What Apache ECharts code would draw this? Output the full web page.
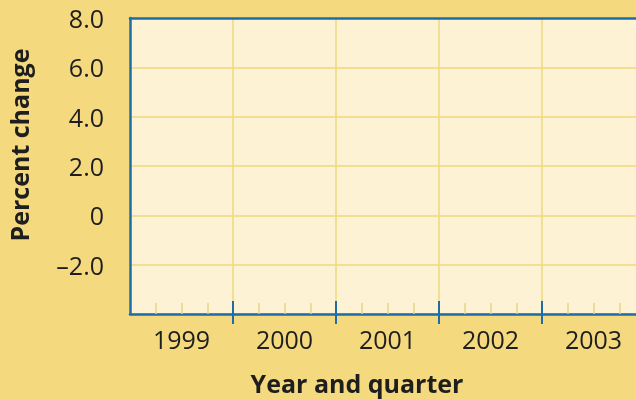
<!DOCTYPE html>
<html>
<head>
<meta charset="utf-8">
<script src="https://cdn.jsdelivr.net/npm/echarts@6/dist/echarts.min.js"></script>
<style>
html,body{margin:0;padding:0;background:#f4d97e;}
#c{width:636px;height:400px;}
</style>
</head>
<body>
<div id="c"></div>
<script>
// Data (empty worksheet graph: only axes)
var years = ['1999', '2000', '2001', '2002', '2003'];
var yTicks = [-4, -2, 0, 2, 4, 6, 8];
var yTickLabels = ['', '\u20132.0', '0', '2.0', '4.0', '6.0', '8.0'];
var quartersPerYear = 4;
var seriesValues = [];

var BLUE = '#1d6ea8';
var GRID = '#efd97c';
var MINOR = '#e8d57e';
var FONT = '"Open Sans", "Noto Sans", sans-serif';

var yearCenters = years.map(function (y, i) { return i + 0.5; });
var yearBounds = [];
for (var i = 1; i < years.length; i++) yearBounds.push(i);
var quarterTicks = [];
for (var j = 0; j < years.length; j++) {
  for (var q = 1; q < quartersPerYear; q++) quarterTicks.push(j + q / quartersPerYear);
}

var chart = echarts.init(document.getElementById('c'), null, {renderer: 'canvas'});
chart.setOption({
  backgroundColor: '#f4d97e',
  animation: false,
  grid: {
    left: 130, width: 515, top: 18, bottom: 86,
    outerBoundsMode: 'none', containLabel: false,
    show: true, backgroundColor: '#fdf2d4', borderWidth: 0
  },
  xAxis: [
    {
      type: 'value', min: 0, max: years.length, interval: 1,
      position: 'bottom',
      axisLine: {show: true, onZero: false, lineStyle: {color: BLUE, width: 2.5}},
      axisTick: {show: true, customValues: yearBounds, inside: false, length: 10, lineStyle: {color: BLUE, width: 2}},
      splitLine: {show: true, lineStyle: {color: GRID, width: 1.5}},
      axisLabel: {
        show: true, customValues: yearCenters, margin: 15,
        color: '#1e1e1e', fontSize: 25, fontFamily: FONT,
        formatter: function (v) { return years[Math.floor(v)]; }
      }
    },
    {
      type: 'value', min: 0, max: years.length, interval: 1,
      position: 'bottom',
      axisLine: {show: false, onZero: false},
      axisTick: {show: true, customValues: yearBounds, inside: true, length: 13, lineStyle: {color: BLUE, width: 2}},
      splitLine: {show: false},
      axisLabel: {show: false}
    },
    {
      type: 'value', min: 0, max: years.length,
      position: 'bottom',
      axisLine: {show: false, onZero: false},
      axisTick: {show: true, customValues: quarterTicks, inside: true, length: 11, lineStyle: {color: MINOR, width: 1.5}},
      splitLine: {show: false},
      axisLabel: {show: false}
    },
    {
      type: 'value', min: 0, max: years.length,
      position: 'top',
      axisLine: {show: true, onZero: false, lineStyle: {color: BLUE, width: 2.5}},
      axisTick: {show: false},
      splitLine: {show: false},
      axisLabel: {show: false}
    }
  ],
  yAxis: {
    type: 'value', min: yTicks[0], max: yTicks[yTicks.length - 1], interval: 2,
    axisLine: {show: true, onZero: false, lineStyle: {color: BLUE, width: 2.5}},
    axisTick: {show: false},
    splitLine: {show: true, lineStyle: {color: GRID, width: 1.5}},
    axisLabel: {
      margin: 26, color: '#1e1e1e', fontSize: 25, fontFamily: FONT,
      verticalAlign: 'middle',
      rich: {
        v: {color: '#1e1e1e', fontSize: 25, fontFamily: FONT, padding: [6, 0, 0, 0]}
      },
      formatter: function (v) {
        var k = yTicks.indexOf(v);
        var s = k >= 0 ? yTickLabels[k] : '';
        return s ? '{v|' + s + '}' : '';
      }
    }
  },
  graphic: [
    {
      type: 'text', x: 22, y: 145, rotation: Math.PI / 2,
      style: {
        text: 'Percent change', fill: '#1e1e1e', fontSize: 25, fontWeight: 'bold',
        fontFamily: FONT, textAlign: 'center', textVerticalAlign: 'middle'
      }
    },
    {
      type: 'text', x: 357, y: 386,
      style: {
        text: 'Year and quarter', fill: '#1e1e1e', fontSize: 25, fontWeight: 'bold',
        fontFamily: FONT, textAlign: 'center', textVerticalAlign: 'middle'
      }
    }
  ],
  series: [{type: 'line', data: seriesValues, xAxisIndex: 0, yAxisIndex: 0}]
});
</script>
</body>
</html>
